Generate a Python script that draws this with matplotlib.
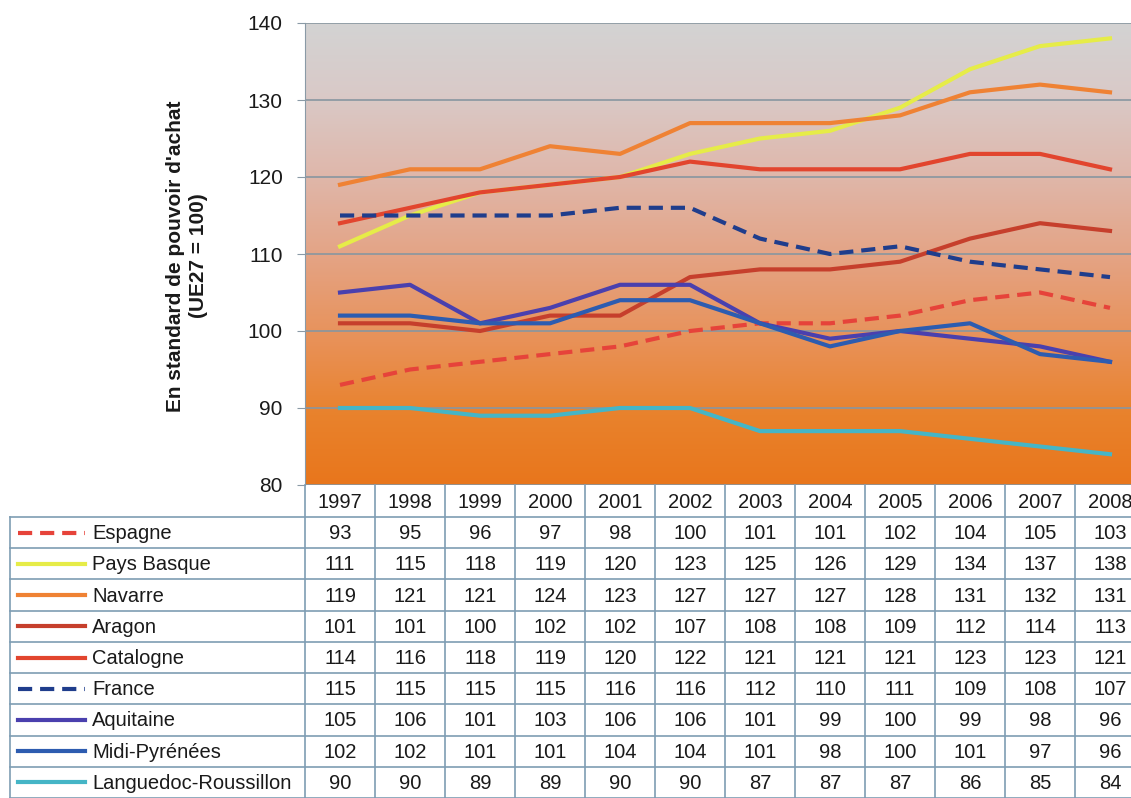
import numpy as np
import matplotlib
matplotlib.use("Agg")
import matplotlib.pyplot as plt
from matplotlib.colors import LinearSegmentedColormap

plt.rcParams['font.family'] = ['Liberation Sans', 'DejaVu Sans']

years = [1997, 1998, 1999, 2000, 2001, 2002, 2003, 2004, 2005, 2006, 2007, 2008]

espagne = [93, 95, 96, 97, 98, 100, 101, 101, 102, 104, 105, 103]
pays_basque = [111, 115, 118, 119, 120, 123, 125, 126, 129, 134, 137, 138]
navarre = [119, 121, 121, 124, 123, 127, 127, 127, 128, 131, 132, 131]
aragon = [101, 101, 100, 102, 102, 107, 108, 108, 109, 112, 114, 113]
catalogne = [114, 116, 118, 119, 120, 122, 121, 121, 121, 123, 123, 121]
france = [115, 115, 115, 115, 116, 116, 112, 110, 111, 109, 108, 107]
aquitaine = [105, 106, 101, 103, 106, 106, 101, 99, 100, 99, 98, 96]
midi_pyrenees = [102, 102, 101, 101, 104, 104, 101, 98, 100, 101, 97, 96]
languedoc = [90, 90, 89, 89, 90, 90, 87, 87, 87, 86, 85, 84]

names = ["Espagne", "Pays Basque", "Navarre", "Aragon", "Catalogne",
         "France", "Aquitaine", "Midi-Pyrénées", "Languedoc-Roussillon"]
series = [espagne, pays_basque, navarre, aragon, catalogne,
          france, aquitaine, midi_pyrenees, languedoc]
colors = ["#e6433a", "#e6ec48", "#ef8234", "#c63f2c", "#e2452e",
          "#1f3d8c", "#4a40ae", "#2d5cb0", "#45b5c6"]
dashed = [True, False, False, False, False, True, False, False, False]
DASH = (0, (3.4, 1.9))

W, H = 1131, 798
fig = plt.figure(figsize=(W / 100, H / 100), dpi=100)

# table geometry (pixels)
x0_tab, x_col0, col_w = 10, 305, 70
y_plot_top, y_top, head_h = 23, 485, 32
row_h = (H - y_top - head_h) / len(names)

ax = fig.add_axes([x_col0 / W, 1 - y_top / H, 12 * col_w / W, (y_top - y_plot_top) / H])
x = np.arange(len(years))

# background gradient
grad = LinearSegmentedColormap.from_list("bg", [
    (0.0, "#e8761c"), (0.15, "#e9822c"), (0.32, "#e8925a"), (0.5, "#e4a486"),
    (0.68, "#dfb8ac"), (0.85, "#d9cac8"), (1.0, "#d3d3d3")])
ax.imshow(np.linspace(0, 1, 256).reshape(-1, 1), extent=[-0.5, 11.5, 80, 140],
          origin="lower", aspect="auto", cmap=grad, zorder=0)

for val, c, d in zip(series, colors, dashed):
    ax.plot(x, val, color=c, lw=3, ls=DASH if d else "-",
            zorder=3, solid_joinstyle="round")

ax.set_xlim(-0.5, 11.5)
ax.set_ylim(80, 140)
ax.set_yticks(range(80, 141, 10))
ax.set_xticks([])
ax.tick_params(axis="y", labelsize=15, length=6, color="#8a9aa6", pad=10,
               labelcolor="#1a1a1a")
ax.grid(axis="y", color="#8896a0", lw=1.2, zorder=1)
for s in ["top", "right", "bottom"]:
    ax.spines[s].set_visible(False)
ax.spines["left"].set_color("#8a9aa6")
fig.text(187 / W, 1 - 256 / H, "En standard de pouvoir d'achat\n(UE27 = 100)",
         rotation=90, ha="center", va="center", multialignment="center",
         fontsize=15, fontweight="bold", linespacing=1.25, color="#1a1a1a")

# data table drawn in pixel coordinates
tab = fig.add_axes([0, 0, 1, 1], zorder=5)
tab.set_xlim(0, W)
tab.set_ylim(H, 0)
tab.axis("off")
lc = "#7e9db3"
y_rows = [y_top + head_h + i * row_h for i in range(len(names) + 1)]
x_cols = [x_col0 + i * col_w for i in range(len(years) + 1)]
for yy in y_rows:
    tab.plot([x0_tab, W + 20], [yy, yy], color=lc, lw=1.2)
for xx in x_cols:
    tab.plot([xx, xx], [y_top, H + 5], color=lc, lw=1.2)
tab.plot([x0_tab, x0_tab], [y_top + head_h, H + 5], color=lc, lw=1.2)
for j, yr in enumerate(years):
    tab.text(x_col0 + (j + 0.5) * col_w, y_top + head_h / 2 + 1, str(yr),
             ha="center", va="center", fontsize=14.5, color="#1a1a1a")
for i, (val, name, c, d) in enumerate(zip(series, names, colors, dashed)):
    yc = y_rows[i] + row_h / 2
    tab.plot([18, 85], [yc, yc], color=c, lw=3, ls=DASH if d else "-")
    tab.text(92, yc + 1, name, ha="left", va="center", fontsize=14.5,
             color="#1a1a1a")
    for j, v in enumerate(val):
        tab.text(x_col0 + (j + 0.5) * col_w, yc + 1, str(v),
                 ha="center", va="center", fontsize=14.5, color="#1a1a1a")

fig.savefig("out.png", dpi=100)
